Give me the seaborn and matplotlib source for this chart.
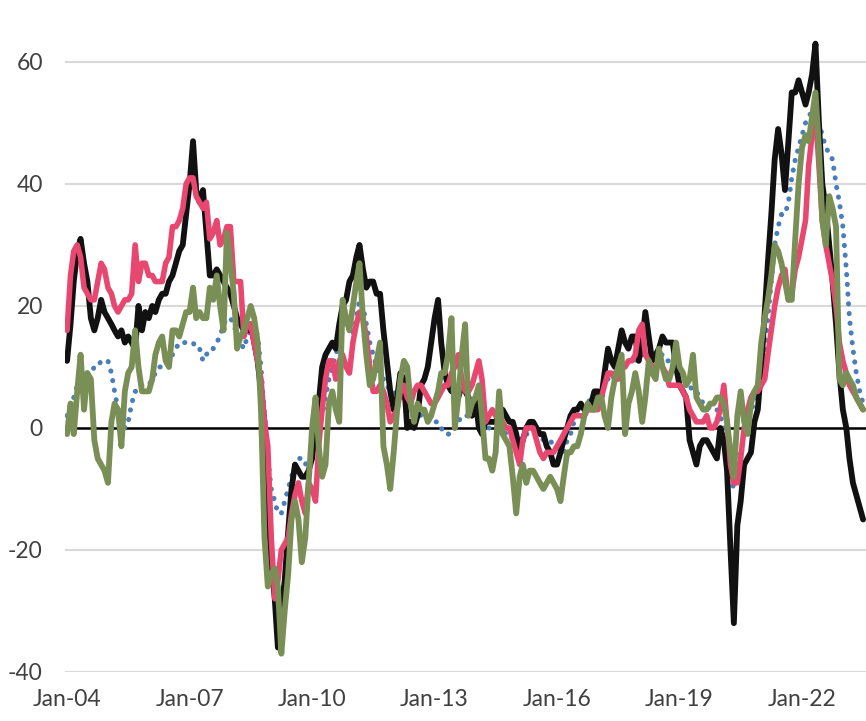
import numpy as np
import pandas as pd
import matplotlib
matplotlib.use("Agg")
import matplotlib.pyplot as plt
import matplotlib.dates as mdates
import seaborn as sns

# monthly values, Jan-2004 .. Jul-2023 (one row per year)
black = [
    11, 17, 24, 29, 31, 27, 24, 18, 16, 18, 21, 19,
    18, 17, 16, 15, 16, 14, 15, 14, 13, 20, 16, 19,
    18, 20, 19, 21, 22, 22, 24, 25, 27, 29, 30, 35,
    40, 47, 39, 37, 39, 32, 25, 25, 26, 25, 24, 23,
    22, 20, 18, 17, 16, 16, 17, 14, 11, 6, 1, -12,
    -22, -28, -36, -30, -25, -17, -10, -6, -7, -8, -8, -7,
    -5, 0, 4, 10, 12, 13, 14, 13, 17, 20, 21, 24,
    25, 28, 30, 26, 23, 24, 24, 22, 22, 16, 11, 6,
    3, 5, 9, 8, 0, 1, 0, 2, 7, 8, 10, 14,
    18, 21, 14, 9, 7, 6, 6, 5, 7, 6, 5, 2,
    5, 0, -1, 1, 1, 1, 1, 2, 3, 2, 1, 1,
    -1, -4, -2, 0, 1, 1, 0, -1, -1, -3, -4, -6,
    -6, -4, -2, 0, 2, 3, 3, 4, 3, 3, 4, 6,
    6, 5, 9, 13, 11, 10, 13, 16, 14, 13, 15, 15,
    11, 14, 19, 15, 11, 12, 13, 15, 14, 14, 14, 10,
    7, 6, 5, -2, -4, -6, -3, -2, -2, -3, -4, -5,
    0, -2, -7, -20, -32, -16, -12, -6, -5, -4, 1, 3,
    10, 19, 27, 35, 44, 49, 45, 39, 47, 55, 55, 57,
    55, 53, 55, 58, 63, 50, 40, 36, 30, 24, 17, 9,
    3, 0, -5, -9, -11, -13, -15,
]
pink = [
    16, 25, 29, 30, 28, 23, 22, 21, 21, 24, 27, 26,
    23, 22, 20, 19, 20, 21, 21, 22, 30, 24, 27, 27,
    25, 25, 24, 24, 24, 27, 28, 33, 33, 34, 36, 40,
    41, 41, 38, 37, 36, 37, 31, 32, 34, 30, 31, 33,
    33, 24, 24, 24, 15, 17, 17, 14, 11, 8, 1, -3,
    -18, -28, -25, -20, -19, -18, -14, -11, -9, -12, -14, -9,
    -10, -12, -3, 3, 8, 11, 11, 8, 11, 12, 10, 9,
    14, 17, 19, 18, 15, 10, 6, 6, 7, 6, 4, 1,
    2, 3, 6, 7, 5, 4, 6, 7, 7, 6, 5, 4,
    4, 5, 6, 7, 7, 9, 10, 12, 8, 6, 6, 7,
    9, 11, 8, 1, 2, 3, 2, 2, 1, 0, 0, -2,
    -4, -6, -2, 0, 0, 0, -2, -4, -5, -4, -4, -4,
    -3, -2, -1, 0, 1, 2, 2, 2, 2, 3, 3, 3,
    3, 5, 7, 9, 9, 8, 8, 10, 10, 11, 11, 12,
    16, 17, 12, 11, 10, 10, 11, 10, 9, 7, 7, 7,
    7, 6, 5, 3, 2, 1, 1, 1, 2, 0, 0, 1,
    3, 7, 1, -6, -9, -9, -5, 0, 3, 5, 6, 6,
    7, 8, 12, 16, 20, 23, 25, 26, 21, 22, 26, 28,
    31, 34, 43, 48, 52, 43, 34, 30, 27, 24, 20, 14,
    11, 9, 7, 6, 5, 4, 3,
]
green = [
    -1, 4, -1, 6, 12, 3, 9, 8, -2, -5, -6, -7,
    -9, 1, 4, 3, -3, 6, 9, 10, 16, 10, 6, 6,
    6, 8, 12, 14, 15, 11, 10, 16, 16, 15, 17, 19,
    19, 23, 18, 19, 18, 18, 23, 21, 25, 20, 16, 32,
    27, 22, 13, 15, 16, 18, 20, 18, 14, 3, -18, -26,
    -24, -23, -26, -37, -30, -24, -15, -12, -15, -22, -18, -9,
    0, 5, -3, -8, -6, 4, 6, 3, 1, 21, 18, 16,
    20, 24, 27, 18, 12, 7, 8, 11, 14, -3, -6, -10,
    -4, 3, 8, 11, 10, 4, 1, 4, 3, 3, 1, 2,
    4, 6, 9, 9, 12, 18, 0, 5, 12, 17, 2, 4,
    5, 7, 2, -5, -5, -7, -4, 6, -1, -2, -3, -8,
    -14, -8, -6, -9, -7, -7, -8, -9, -10, -9, -8, -9,
    -10, -12, -8, -4, -4, -3, -3, -1, 2, 4, 3, 3,
    5, 5, 2, 0, 5, 8, 10, 12, -1, 4, 6, 9,
    6, 1, 5, 11, 9, 8, 13, 10, 8, 8, 10, 14,
    10, 9, 7, 8, 12, 5, 4, 3, 3, 4, 4, 5,
    5, 4, 1, -4, -8, 2, 6, 1, -1, 4, 6, 7,
    14, 18, 21, 25, 30, 29, 27, 24, 21, 21, 31, 40,
    46, 48, 47, 51, 55, 46, 34, 30, 38, 36, 33, 8,
    7, 9, 8, 7, 5, 4, 3,
]
blue = [
    2, 4, 5, 7, 8, 9, 9, 9, 10, 10, 11, 11,
    11, 9, 6, 3, 2, 0, 1, 4, 6, 6, 7, 7,
    7, 8, 9, 10, 10, 11, 12, 12, 13, 14, 14, 14,
    14, 14, 13, 13, 11, 12, 13, 13, 14, 15, 17, 18,
    18, 17, 15, 14, 13, 15, 16, 17, 15, 10, 2, -5,
    -10, -12, -14, -14, -12, -10, -8, -6, -5, -5, -6, -5,
    -4, -2, 0, 2, 5, 8, 10, 12, 14, 16, 17, 17,
    15, 18, 21, 20, 17, 14, 12, 10, 9, 8, 7, 6,
    6, 5, 5, 5, 4, 4, 3, 3, 2, 2, 2, 2,
    1, 1, 0, -1, -1, -1, 0, 1, 2, 2, 2, 2,
    2, 2, 1, 1, 0, 0, 0, 0, 0, -1, -1, -2,
    -2, -2, -1, -1, -1, -1, -1, -1, -2, -2, -2, -3,
    -3, -4, -4, -2, -1, 1, 2, 3, 4, 4, 5, 6,
    5, 6, 7, 8, 9, 9, 10, 10, 10, 11, 11, 11,
    12, 12, 12, 12, 12, 12, 12, 12, 11, 11, 10, 10,
    9, 9, 8, 7, 6, 6, 5, 4, 4, 3, 3, 3,
    2, 0, -4, -8, -10, -8, -4, -1, 1, 3, 4, 6,
    9, 13, 18, 24, 30, 33, 35, 35, 37, 41, 44, 46,
    48, 50, 51, 52, 52, 50, 48, 46, 45, 44, 40, 37,
    33, 26, 18, 13, 9, 6, 4,
]

months = pd.date_range("2004-01-01", periods=len(black), freq="MS")
df = pd.DataFrame({"date": months, "black": black, "pink": pink,
                   "green": green, "blue": blue})

sns.set_style("white")
plt.rcParams["font.family"] = ["Lato", "DejaVu Sans"]
plt.rcParams["axes.unicode_minus"] = False

fig = plt.figure(figsize=(8.66, 7.21), dpi=100)
ax = fig.add_axes([0.0751, 0.068, 0.9249, 0.9307])

sns.lineplot(data=df, x="date", y="blue", ax=ax, color="#4A7EBB", lw=3.6,
             linestyle=(0, (0.05, 1.9)), dash_capstyle="round", zorder=3)
sns.lineplot(data=df, x="date", y="black", ax=ax, color="#111111", lw=4.2, zorder=4)
sns.lineplot(data=df, x="date", y="pink", ax=ax, color="#E8476F", lw=4.0, zorder=5)
sns.lineplot(data=df, x="date", y="green", ax=ax, color="#7A8F56", lw=4.2, zorder=6)

ax.axhline(0, color="black", lw=1.8, zorder=2)
ax.set_ylim(-40, 70)
ax.set_yticks([-40, -20, 0, 20, 40, 60])
ax.yaxis.grid(True, color="#D9D9D9", lw=1.5)
ax.set_xlim(pd.Timestamp("2003-12-14"), pd.Timestamp("2023-07-27"))
ax.set_xticks(pd.date_range("2004-01-01", "2022-01-01", freq="36MS"))
ax.xaxis.set_major_formatter(mdates.DateFormatter("%b-%y"))
ax.set_xlabel("")
ax.set_ylabel("")
for s in ax.spines.values():
    s.set_visible(False)
ax.tick_params(axis="both", length=0, labelsize=16.5, colors="#404040")
ax.tick_params(axis="y", pad=16)
ax.tick_params(axis="x", pad=12)

fig.savefig("out.png", dpi=100)
